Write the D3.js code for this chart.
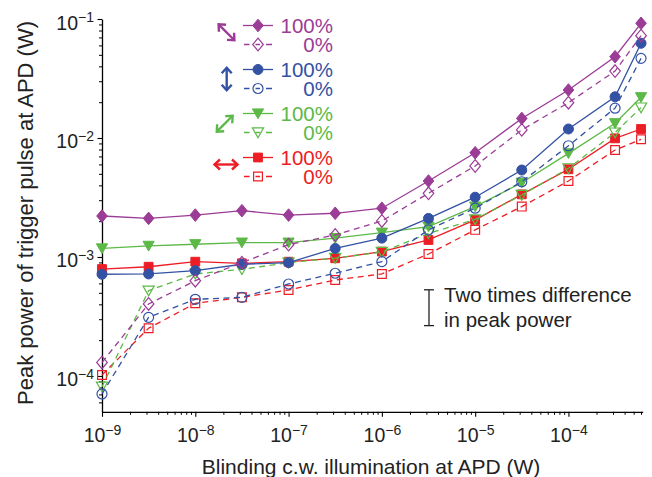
<!DOCTYPE html>
<html>
<head>
<meta charset="utf-8">
<script src="https://cdn.jsdelivr.net/npm/d3@7"></script>
<style>
  html, body { margin: 0; padding: 0; background: #fff; }
  svg { display: block; font-family: "Liberation Sans", Arial, Helvetica, sans-serif; }
</style>
</head>
<body>
<svg id="chart" width="652" height="477"></svg>
<script>
// Blinding c.w. illumination at the APD (W)
const illumination = [1e-9, 3.16e-9, 1e-8, 3.16e-8, 1e-7, 3.16e-7, 1e-6, 3.16e-6, 1e-5, 3.16e-5, 1e-4, 3.16e-4, 6e-4];

// Peak trigger-pulse power (W) per polarization, at 100% and 0% of the pulse
const diagonal100     = [2.21e-3, 2.11e-3, 2.25e-3, 2.45e-3, 2.25e-3, 2.33e-3, 2.57e-3, 4.35e-3, 7.52e-3, 1.46e-2, 2.53e-2, 4.82e-2, 9.2e-2];
const diagonal0       = [1.30e-4, 4.03e-4, 6.32e-4, 8.96e-4, 1.27e-3, 1.53e-3, 2.01e-3, 3.43e-3, 5.82e-3, 1.17e-2, 1.98e-2, 3.65e-2, 7.24e-2];
const vertical100     = [7.16e-4, 7.20e-4, 7.67e-4, 8.69e-4, 8.96e-4, 1.18e-3, 1.44e-3, 2.11e-3, 3.18e-3, 5.38e-3, 1.19e-2, 2.22e-2, 6.25e-2];
const vertical0       = [7.06e-5, 3.11e-4, 4.41e-4, 4.58e-4, 5.93e-4, 7.30e-4, 9.14e-4, 1.69e-3, 2.57e-3, 4.29e-3, 8.61e-3, 1.78e-2, 4.67e-2];
const antidiagonal100 = [1.18e-3, 1.24e-3, 1.28e-3, 1.32e-3, 1.32e-3, 1.44e-3, 1.60e-3, 1.80e-3, 2.65e-3, 4.21e-3, 7.43e-3, 1.33e-2, 2.20e-2];
const antidiagonal0   = [8.13e-5, 5.21e-4, 7.20e-4, 7.88e-4, 8.96e-4, 9.80e-4, 1.10e-3, 1.58e-3, 2.07e-3, 3.32e-3, 5.56e-3, 1.11e-2, 1.80e-2];
const horizontal100   = [7.92e-4, 8.28e-4, 9.13e-4, 8.85e-4, 9.13e-4, 9.75e-4, 1.11e-3, 1.39e-3, 2.05e-3, 3.36e-3, 5.46e-3, 9.93e-3, 1.19e-2];
const horizontal0     = [1.02e-4, 2.52e-4, 4.08e-4, 4.58e-4, 5.28e-4, 6.41e-4, 7.20e-4, 1.06e-3, 1.69e-3, 2.65e-3, 4.35e-3, 7.93e-3, 9.75e-3];

// Labelled decades on each axis
const xTickValues = [1e-9, 1e-8, 1e-7, 1e-6, 1e-5, 1e-4];
const yTickValues = [1e-4, 1e-3, 1e-2, 1e-1];

// Legend text
const legendLabels = ["100%", "0%"];

// Factor-of-two reference bar (W)
const refBarX = 3.2e-6;
const refBarLow = 2.65e-4;
const refBarHigh = 2 * refBarLow;
const refText = ["Two times difference", "in peak power"];

const COLORS = { purple: "#9b3c96", blue: "#3452a4", green: "#5db947", red: "#ec1d25" };

const groups = [
  { key: "diagonal",     color: COLORS.purple, shape: "diamond",  full: diagonal100,     zero: diagonal0,     arrow: { cx: 226.5, cy: 32.3, angle: 45 } },
  { key: "vertical",     color: COLORS.blue,   shape: "circle",   full: vertical100,     zero: vertical0,     arrow: { cx: 226.7, cy: 79,   angle: 90 } },
  { key: "antidiagonal", color: COLORS.green,  shape: "triangle", full: antidiagonal100, zero: antidiagonal0, arrow: { cx: 224.7, cy: 123.7, angle: -45 } },
  { key: "horizontal",   color: COLORS.red,    shape: "square",   full: horizontal100,   zero: horizontal0,   arrow: { cx: 226,   cy: 164.5, angle: 0 } }
];

const svg = d3.select("#chart");

const x = d3.scaleLog().domain([1e-9, 6.25e-4]).range([102, 642.7]);
const y = d3.scaleLog().domain([5e-5, 0.1]).range([411.8, 19]);

function markerPath(shape) {
  switch (shape) {
    case "diamond":  return "M0,-6.3L5.3,0L0,6.3L-5.3,0Z";
    case "circle":   return "M5,0A5,5 0 1,1 -5,0A5,5 0 1,1 5,0Z";
    case "triangle": return "M-5.6,-4.6L5.6,-4.6L0,5.2Z";
    case "square":   return "M-4.4,-4.4L4.4,-4.4L4.4,4.4L-4.4,4.4Z";
  }
}

// ---- axes ----
const axisG = svg.append("g").attr("class", "axes");

function supLabel(sel, exp, anchor) {
  sel.append("tspan").text("10");
  sel.append("tspan").attr("dy", -7.5).attr("font-size", 14).text("\u2212" + Math.abs(exp));
  sel.attr("text-anchor", anchor);
}

// x axis
const xMinor = x.ticks().filter(d => !xTickValues.some(v => Math.abs(v - d) / v < 1e-6));
axisG.append("g")
  .attr("transform", `translate(0,${y.range()[0]})`)
  .call(d3.axisBottom(x).tickValues(xMinor).tickSize(3).tickSizeOuter(0).tickFormat(() => ""))
  .call(g => g.select(".domain").remove());
const xAx = axisG.append("g")
  .attr("transform", `translate(0,${y.range()[0]})`)
  .call(d3.axisBottom(x).tickValues(xTickValues).tickSize(5).tickSizeOuter(0).tickFormat(() => ""));
xAx.select(".domain").attr("stroke-width", 1.3);
xAx.selectAll(".tick line").attr("stroke-width", 1.1);
xAx.selectAll(".tick").each(function (d) {
  const t = d3.select(this).append("text")
    .attr("x", 0).attr("y", 30.5)
    .attr("fill", "#222").attr("font-size", 19.5);
  supLabel(t, Math.round(Math.log10(d)), "middle");
});

// y axis
const yMinor = y.ticks().filter(d => !yTickValues.some(v => Math.abs(v - d) / v < 1e-6) && d > y.domain()[0] * 1.0001);
axisG.append("g")
  .attr("transform", `translate(${x.range()[0]},0)`)
  .call(d3.axisLeft(y).tickValues(yMinor).tickSize(3).tickSizeOuter(0).tickFormat(() => ""))
  .call(g => g.select(".domain").remove());
const yAx = axisG.append("g")
  .attr("transform", `translate(${x.range()[0]},0)`)
  .call(d3.axisLeft(y).tickValues(yTickValues).tickSize(4.5).tickSizeOuter(0).tickFormat(() => ""));
yAx.select(".domain").attr("stroke-width", 1.3);
yAx.selectAll(".tick line").attr("stroke-width", 1.1);
yAx.selectAll(".tick").each(function (d) {
  const t = d3.select(this).append("text")
    .attr("x", -8).attr("y", 10)
    .attr("fill", "#222").attr("font-size", 19.5);
  supLabel(t, Math.round(Math.log10(d)), "end");
});
svg.selectAll(".axes text").attr("font-family", null);

// axis titles
svg.append("text")
  .attr("x", 371).attr("y", 474)
  .attr("text-anchor", "middle").attr("font-size", 21).attr("fill", "#222")
  .text("Blinding c.w. illumination at APD (W)");
svg.append("text")
  .attr("transform", "translate(33,213) rotate(-90)")
  .attr("text-anchor", "middle").attr("font-size", 22).attr("fill", "#222")
  .text("Peak power of trigger pulse at APD (W)");

// ---- data ----
const line = d3.line().x(d => x(d[0])).y(d => y(d[1]));
const plot = svg.append("g").attr("class", "plot");
const drawOrder = [groups[3], groups[2], groups[1], groups[0]];

drawOrder.forEach(g => {
  const gg = plot.append("g").attr("class", g.key);
  const zeroPts = illumination.map((v, i) => [v, g.zero[i]]);
  const fullPts = illumination.map((v, i) => [v, g.full[i]]);

  gg.append("path").datum(zeroPts)
    .attr("d", line).attr("fill", "none").attr("stroke", g.color)
    .attr("stroke-width", 1.3).attr("stroke-dasharray", "6,4.5");
  gg.append("path").datum(fullPts)
    .attr("d", line).attr("fill", "none").attr("stroke", g.color)
    .attr("stroke-width", 1.3);

  gg.selectAll(".open").data(zeroPts).join("path")
    .attr("class", "open")
    .attr("transform", d => `translate(${x(d[0])},${y(d[1])})`)
    .attr("d", markerPath(g.shape))
    .attr("fill", "none").attr("stroke", g.color).attr("stroke-width", 1.2);
  gg.selectAll(".filled").data(fullPts).join("path")
    .attr("class", "filled")
    .attr("transform", d => `translate(${x(d[0])},${y(d[1])})`)
    .attr("d", markerPath(g.shape))
    .attr("fill", g.color).attr("stroke", g.color).attr("stroke-width", 1);
});

// ---- legend ----
const legend = svg.append("g").attr("class", "legend");
groups.forEach((g, gi) => {
  const rowFull = 25.5 + gi * 44;
  const rowZero = rowFull + 19;

  // double-headed polarization arrow
  const a = g.arrow;
  const ag = legend.append("g")
    .attr("transform", `translate(${a.cx},${a.cy}) rotate(${a.angle})`)
    .attr("stroke", g.color).attr("stroke-width", 2.4).attr("fill", "none")
    .attr("stroke-linecap", "butt").attr("stroke-linejoin", "miter");
  const half = g.arrow.angle === 0 ? 11.5 : 11.2;
  ag.append("line").attr("x1", -half + 1).attr("x2", half - 1).attr("y1", 0).attr("y2", 0);
  ag.append("path").attr("d", `M${half - 5.5},-5L${half},0L${half - 5.5},5`);
  ag.append("path").attr("d", `M${-half + 5.5},-5L${-half},0L${-half + 5.5},5`);

  // 100%: solid line + filled marker
  legend.append("line")
    .attr("x1", 243).attr("x2", 273).attr("y1", rowFull).attr("y2", rowFull)
    .attr("stroke", g.color).attr("stroke-width", 1.3);
  legend.append("path")
    .attr("transform", `translate(258,${rowFull})`)
    .attr("d", markerPath(g.shape))
    .attr("fill", g.color).attr("stroke", g.color).attr("stroke-width", 1);

  // 0%: dashed line + open marker
  legend.append("line")
    .attr("x1", 244).attr("x2", 272).attr("y1", rowZero).attr("y2", rowZero)
    .attr("stroke", g.color).attr("stroke-width", 1.3)
    .attr("stroke-dasharray", "5.5,6,4.5,6,6");
  legend.append("path")
    .attr("transform", `translate(258,${rowZero})`)
    .attr("d", markerPath(g.shape))
    .attr("fill", "none").attr("stroke", g.color).attr("stroke-width", 1.2);

  // the two labels of a group share one text block
  const lbl = legend.append("text")
    .attr("text-anchor", "end").attr("font-size", 20.5).attr("fill", g.color);
  lbl.append("tspan").attr("x", 333).attr("y", rowFull + 7).text(legendLabels[0]);
  lbl.append("tspan").attr("x", 333).attr("y", rowZero + 7).text(legendLabels[1]);
});

// ---- factor-of-two reference bar ----
const ref = svg.append("g").attr("class", "ref").attr("stroke", "#222").attr("stroke-width", 1.3);
const bx = x(refBarX);
ref.append("line").attr("x1", bx).attr("x2", bx).attr("y1", y(refBarLow)).attr("y2", y(refBarHigh));
ref.append("line").attr("x1", bx - 5).attr("x2", bx + 5).attr("y1", y(refBarLow)).attr("y2", y(refBarLow));
ref.append("line").attr("x1", bx - 5).attr("x2", bx + 5).attr("y1", y(refBarHigh)).attr("y2", y(refBarHigh));
const note = svg.append("text").attr("font-size", 20.5).attr("fill", "#222");
refText.forEach((t, i) => {
  note.append("tspan").attr("x", 444).attr("y", 302 + i * 25).text(t);
});
</script>
</body>
</html>
